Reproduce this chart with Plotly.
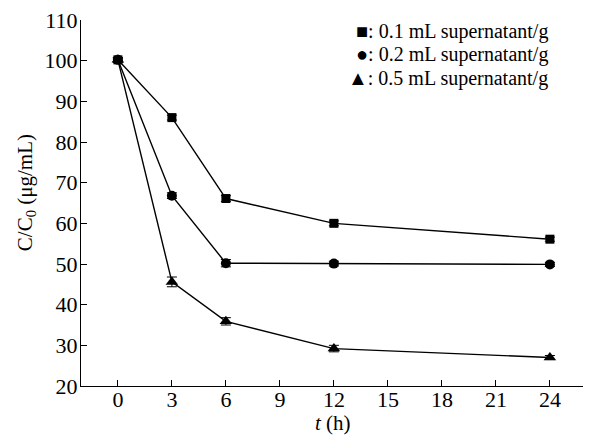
import plotly.graph_objects as go

time_h = [0, 3, 6, 12, 24]
conc_01 = [100.2, 86.0, 66.1, 60.0, 56.1]
conc_02 = [100.2, 66.8, 50.2, 50.1, 49.9]
conc_05 = [100.2, 45.6, 35.9, 29.2, 27.0]
err_01 = [0.5, 0.6, 0.7, 0.6, 0.5]
err_02 = [0.5, 0.7, 0.9, 0.6, 0.5]
err_05 = [0.5, 1.2, 0.9, 0.8, 0.5]
x_ticks = [0, 3, 6, 9, 12, 15, 18, 21, 24]
y_ticks = [20, 30, 40, 50, 60, 70, 80, 90, 100, 110]
legend_labels = ["■: 0.1 mL supernatant/g", "●: 0.2 mL supernatant/g", "▲: 0.5 mL supernatant/g"]

FONT = "Liberation Serif"

fig = go.Figure()
series = [
    (conc_01, err_01, "square", 9),
    (conc_02, err_02, "circle", 10),
    (conc_05, err_05, "triangle-up", 11),
]
for vals, errs, sym, sz in series:
    fig.add_trace(go.Scatter(
        x=time_h, y=vals, mode="lines+markers",
        line=dict(color="black", width=1.4),
        marker=dict(symbol=sym, size=sz, color="black"),
        error_y=dict(type="data", array=errs, color="black", thickness=1, width=5),
        showlegend=False,
    ))

legend_y = [0.9686, 0.9044, 0.8402]
for txt, yy in zip(legend_labels, legend_y):
    fig.add_annotation(
        x=0.931, y=yy, xref="paper", yref="paper", text=txt, showarrow=False,
        xanchor="right", yanchor="middle",
        font=dict(family=FONT, size=20, color="black"),
    )

# axis titles as annotations for precise placement
fig.add_annotation(
    x=0.5, y=-0.102, xref="paper", yref="paper", text="<i>t</i> (h)", showarrow=False,
    xanchor="center", yanchor="middle", font=dict(family=FONT, size=21, color="black"),
)
fig.add_annotation(
    x=-0.109, y=0.527, xref="paper", yref="paper", text="C/C<sub>0</sub> (μg/mL)", showarrow=False,
    xanchor="center", yanchor="middle", textangle=-90,
    font=dict(family=FONT, size=21, color="black"),
)

# page body has an 8px default margin, so the figure is sized to fit the window
fig.update_layout(
    width=583, height=428,
    margin=dict(l=73, r=6, t=12, b=50, autoexpand=False),
    plot_bgcolor="white", paper_bgcolor="white",
    font=dict(family=FONT, size=22, color="black"),
)
fig.update_xaxes(
    range=[-2.05, 25.95], tickvals=x_ticks, ticktext=[str(v) for v in x_ticks],
    ticks="inside", ticklen=6, tickwidth=1.2, tickcolor="black",
    showline=True, linecolor="black", linewidth=1.4, showgrid=False, zeroline=False,
    tickfont=dict(family=FONT, size=22, color="black"), automargin=False,
    ticklabelstandoff=-7, ticklabeloverflow="allow",
)
fig.update_yaxes(
    range=[20, 110], tickvals=y_ticks, ticktext=[str(v) for v in y_ticks],
    ticks="inside", ticklen=6, tickwidth=1.2, tickcolor="black",
    showline=True, linecolor="black", linewidth=1.4, showgrid=False, zeroline=False,
    tickfont=dict(family=FONT, size=22, color="black"), automargin=False,
    ticklabelstandoff=-2, ticklabeloverflow="allow",
)

fig.write_html("out.html")
